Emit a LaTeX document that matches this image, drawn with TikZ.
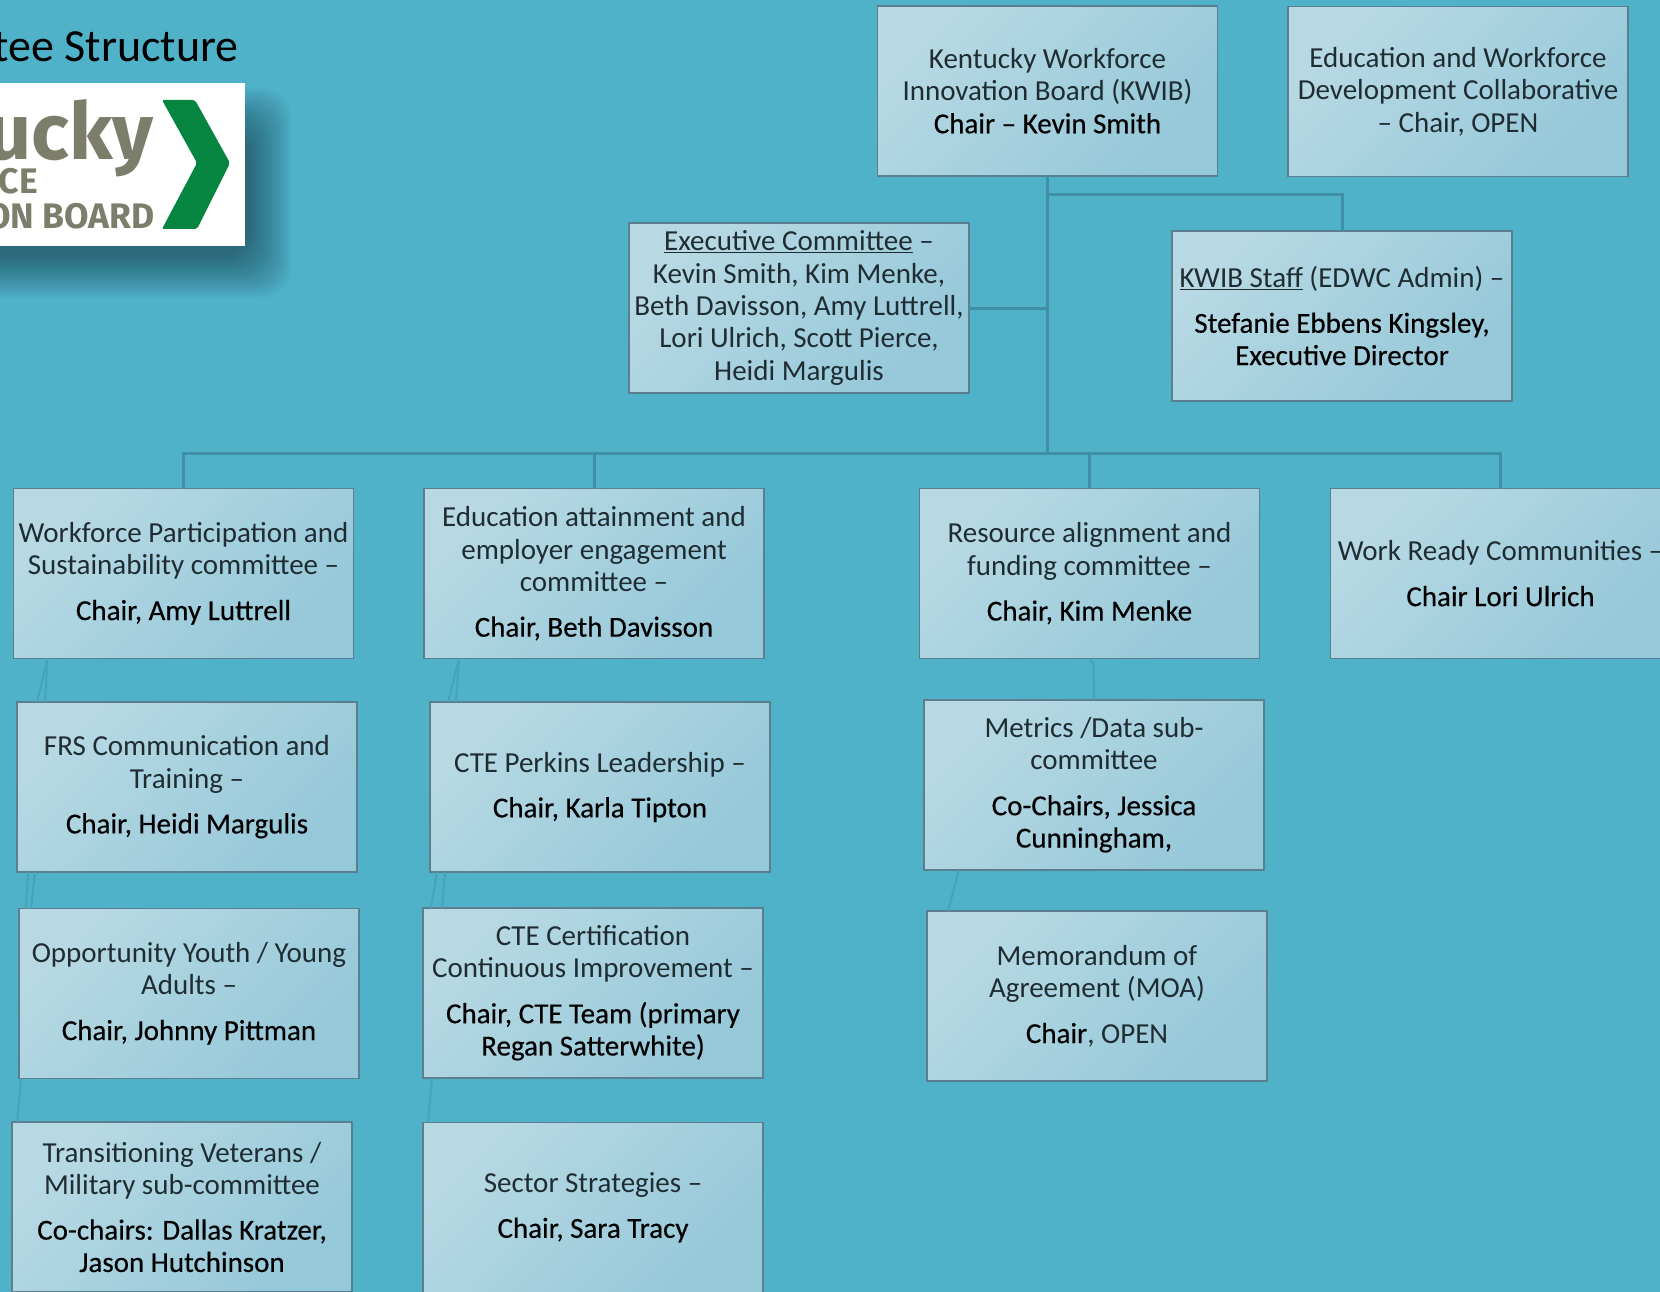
\documentclass[tikz,border=0pt]{standalone}
\usepackage{fontspec}
\setmainfont{Carlito}
\newfontfamily\logofont{Fira Sans}
\newfontfamily\chairfont[FakeBold=0.4]{Carlito}
\usetikzlibrary{calc}
\definecolor{bgteal}{HTML}{4FB2C9}
\definecolor{boxlight}{HTML}{B8D9E4}
\definecolor{boxdark}{HTML}{95C8D9}
\definecolor{boxedge}{HTML}{5B7F8E}
\definecolor{trunk}{HTML}{3F8FA6}
\definecolor{faint}{HTML}{46A3BA}
\definecolor{lighttext}{HTML}{1F2D33}
\definecolor{logogrey}{HTML}{7D7D6B}
\definecolor{logogreen}{HTML}{05853F}
\newcommand{\chairline}[1]{{\chairfont\color{black}#1}}
\tikzset{
  orgbox/.style={draw=boxedge,line width=1.4pt,left color=boxlight,right color=boxdark,shading angle=45,
    minimum width=340pt,minimum height=170pt,inner sep=0pt,outer sep=0pt,align=center,text=lighttext,
    font=\fontsize{29pt}{32.3pt}\selectfont},
  mainline/.style={draw=trunk,line width=3pt},
  subline/.style={draw=faint,line width=2pt},
}
\begin{document}
\begin{tikzpicture}[x=1pt,y=-1pt]
\useasboundingbox (0,0) rectangle (1660,1292);
\clip (0,0) rectangle (1660,1292);
\fill[bgteal] (0,0) rectangle (1660,1292);
% logo shadow
\foreach \i in {0,...,21}{
  \fill[black,opacity=0.021,rounded corners=30pt] ({-40},{88+2*\i}) rectangle ({292-2*\i},{298-2*\i});
}
\fill[white] (-10,83) rectangle (245,246);
\fill[logogreen,rounded corners=2pt] (162,100) -- (195,100) -- (230,163) -- (197,229) -- (162,229) -- (197,163) -- cycle;
\node[anchor=base east,inner sep=0pt,text=logogrey,font=\logofont\bfseries\fontsize{79pt}{79pt}\selectfont] (logoa) at (154,160) {ucky};
\node[anchor=base east,inner sep=0pt,text=logogrey,font=\logofont\bfseries\fontsize{35.5pt}{36pt}\selectfont] (logob) at (38,194) {RCE};
\node[anchor=base east,inner sep=0pt,text=logogrey,font=\logofont\bfseries\fontsize{35.5pt}{36pt}\selectfont] (logoc) at (155,229) {ON BOARD};
\node[anchor=base east,inner sep=0pt,font=\fontsize{46pt}{46pt}\selectfont] (title) at (239,62) {tee Structure};

% nodes
\node[orgbox] (kwib) at (1047.5,91) {Kentucky Workforce\\Innovation Board (KWIB)\\\chairline{Chair – Kevin Smith}};
\node[orgbox] (edwc) at (1458,91.5) {Education and Workforce\\Development Collaborative\\– Chair, OPEN};
\node[orgbox] (exec) at (799,308) {\underline{Executive Committee} –\\Kevin Smith, Kim Menke,\\Beth Davisson, Amy Luttrell,\\Lori Ulrich, Scott Pierce,\\Heidi Margulis};
\node[orgbox] (staff) at (1342,316) {\underline{KWIB Staff} (EDWC Admin) –\\[12.5pt]\chairline{Stefanie Ebbens Kingsley,}\\\chairline{Executive Director}};

\node[orgbox] (wps) at (183.5,573.5) {Workforce Participation and\\Sustainability committee –\\[13pt]\chairline{Chair, Amy Luttrell}};
\node[orgbox] (edu) at (594,573.5) {Education attainment and\\employer engagement\\committee –\\[13pt]\chairline{Chair, Beth Davisson}};
\node[orgbox] (res) at (1089.5,573.5) {Resource alignment and\\funding committee –\\[13pt]\chairline{Chair, Kim Menke}};
\node[orgbox] (wrc) at (1500.5,573.5) {Work Ready Communities –\\[13pt]\chairline{Chair Lori Ulrich}};

\node[orgbox] (frs) at (187,787) {FRS Communication and\\Training –\\[13pt]\chairline{Chair, Heidi Margulis}};
\node[orgbox] (oyya) at (189,993.5) {Opportunity Youth / Young\\Adults –\\[13pt]\chairline{Chair, Johnny Pittman}};
\node[orgbox] (vets) at (182,1207) {Transitioning Veterans /\\Military sub-committee\\[13pt]\chairline{Co-chairs: Dallas Kratzer,}\\\chairline{Jason Hutchinson}};

\node[orgbox] (perk) at (600,787) {CTE Perkins Leadership –\\[13pt]\chairline{Chair, Karla Tipton}};
\node[orgbox] (cert) at (593,993) {CTE Certification\\Continuous Improvement –\\[13pt]\chairline{Chair, CTE Team (primary}\\\chairline{Regan Satterwhite)}};
\node[orgbox] (sect) at (593,1207.5) {Sector Strategies –\\[13pt]\chairline{Chair, Sara Tracy}};

\node[orgbox] (metr) at (1094,785) {Metrics /Data sub-\\committee\\[13pt]\chairline{Co-Chairs, Jessica}\\\chairline{Cunningham,}};
\node[orgbox] (moa) at (1097,996) {Memorandum of\\Agreement (MOA)\\[13pt]\chairline{Chair}, OPEN};

% connectors
\coordinate (busl) at (184,453);
\coordinate (trunkend) at (kwib.south |- busl);
\draw[mainline] (kwib.south) -- (trunkend);
\coordinate (staffbus) at ($(kwib.south)+(0,19)$);
\draw[mainline] (staffbus) -| (staff.north);
\draw[mainline] (exec.east) -- (exec.east -| kwib.south);
\draw[mainline] (wps.north) |- (trunkend);
\draw[mainline] (edu.north) -- (edu.north |- busl);
\draw[mainline] (res.north) -- (res.north |- busl);
\draw[mainline] (wrc.north) |- (trunkend);

\draw[subline] ($(wps.south west)+(34,0)$) -- ($(frs.north west)+(20,0)$);
\draw[subline] ($(wps.south west)+(34,0)$) -- ($(frs.north west)+(28,0)$);
\draw[subline] ($(frs.south west)+(11,0)$) -- ($(oyya.north west)+(7,0)$);
\draw[subline] ($(frs.south west)+(18,0)$) -- ($(oyya.north west)+(12,0)$);
\draw[subline] ($(oyya.south west)+(2,0)$) -- ($(vets.north west)+(5,0)$);
\draw[subline] ($(edu.south west)+(35,0)$) -- ($(perk.north west)+(18,0)$);
\draw[subline] ($(edu.south west)+(35,0)$) -- ($(perk.north west)+(26,0)$);
\draw[subline] ($(perk.south west)+(7,0)$) -- ($(cert.north west)+(8,0)$);
\draw[subline] ($(perk.south west)+(15,0)$) -- ($(cert.north west)+(19,0)$);
\draw[subline] ($(cert.south west)+(9,0)$) -- ($(sect.north west)+(5,0)$);
\draw[subline] (res.south) -- ++(4,5) -- (metr.north);
\draw[subline] ($(metr.south west)+(35,0)$) -- ($(moa.north west)+(21,0)$);
\end{tikzpicture}
\end{document}
